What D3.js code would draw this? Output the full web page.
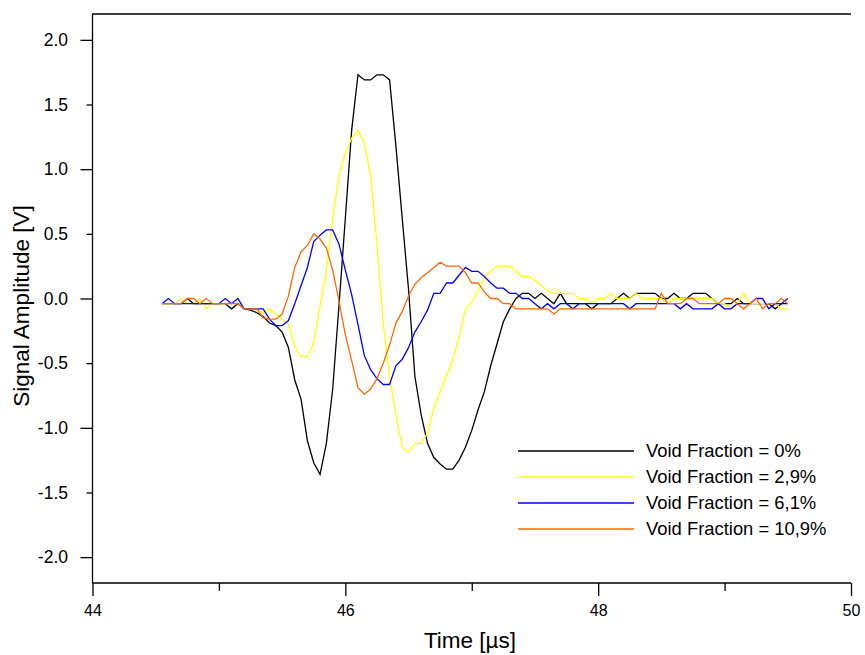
<!DOCTYPE html>
<html>
<head>
<meta charset="utf-8">
<script src="https://cdn.jsdelivr.net/npm/d3@7/dist/d3.min.js"></script>
<style>
  body { margin: 0; background: #fff; }
  text { font-family: Arial, "Liberation Sans", sans-serif; fill: #000; }
</style>
</head>
<body>
<svg id="chart" width="865" height="655"></svg>
<script>
// sampling of the scope trace (µs)
const tStart = 44.55;
const tStep = 0.05;

// Signal amplitude [V], one value per sample
const vf0 = [
  -0.04, -0.04, -0.04, -0.04, 0.0, -0.04, -0.04, -0.04, -0.04, -0.04,
  -0.04, -0.08, -0.04, -0.08, -0.09, -0.11, -0.14, -0.19, -0.21, -0.26,
  -0.38, -0.63, -0.78, -1.10, -1.27, -1.36, -1.12, -0.70, -0.05, 0.62,
  1.30, 1.73, 1.69, 1.69, 1.73, 1.73, 1.69, 1.18, 0.62, 0.07,
  -0.60, -0.90, -1.12, -1.23, -1.28, -1.32, -1.32, -1.25, -1.15, -1.02,
  -0.86, -0.72, -0.52, -0.35, -0.18, -0.08, 0.0, 0.04, 0.04, 0.0,
  0.04, 0.0, -0.04, 0.04, -0.04, -0.04, -0.04, -0.04, -0.08, -0.04,
  -0.04, -0.04, 0.0, 0.04, 0.0, 0.04, 0.04, 0.04, 0.04, 0.0,
  0.0, 0.04, 0.0, 0.0, 0.04, 0.04, 0.04, 0.0, -0.04, -0.04,
  -0.04, 0.0, -0.04, -0.04, -0.04, -0.04, -0.04, -0.08, -0.04, -0.04
];
const vf29 = [
  -0.04, -0.04, -0.04, 0.0, -0.04, -0.04, 0.0, -0.08, -0.04, -0.04,
  -0.04, -0.04, -0.04, -0.08, -0.08, -0.08, -0.11, -0.08, -0.12, -0.16,
  -0.20, -0.37, -0.45, -0.45, -0.34, -0.06, 0.22, 0.62, 0.95, 1.13,
  1.24, 1.30, 1.20, 0.95, 0.42, -0.20, -0.60, -0.90, -1.15, -1.19,
  -1.12, -1.12, -1.04, -0.85, -0.72, -0.60, -0.47, -0.30, -0.08, -0.03,
  0.06, 0.16, 0.21, 0.25, 0.25, 0.25, 0.21, 0.17, 0.17, 0.14,
  0.10, 0.06, 0.04, 0.04, 0.04, 0.04, 0.0, 0.0, -0.04, 0.0,
  0.0, 0.04, 0.0, 0.0, 0.0, 0.04, 0.0, 0.0, 0.0, 0.0,
  -0.04, 0.0, 0.0, 0.0, 0.0, 0.0, 0.0, 0.0, -0.04, -0.04,
  -0.08, -0.04, 0.04, -0.04, -0.04, -0.04, -0.04, -0.04, -0.08, -0.08
];
const vf61 = [
  -0.04, 0.0, -0.04, -0.04, -0.04, -0.04, -0.04, -0.04, -0.04, -0.04,
  0.0, -0.04, 0.0, -0.08, -0.08, -0.08, -0.08, -0.16, -0.21, -0.21,
  -0.17, -0.04, 0.10, 0.24, 0.44, 0.49, 0.53, 0.53, 0.42, 0.22,
  0.03, -0.20, -0.44, -0.55, -0.62, -0.665, -0.665, -0.52, -0.47, -0.38,
  -0.26, -0.18, -0.09, 0.04, 0.04, 0.12, 0.12, 0.18, 0.24, 0.21,
  0.21, 0.17, 0.12, 0.08, 0.08, 0.04, 0.04, 0.0, 0.0, -0.04,
  -0.08, -0.04, -0.08, -0.04, -0.04, -0.08, -0.04, -0.04, -0.04, -0.04,
  -0.04, -0.04, -0.04, -0.04, -0.08, -0.04, -0.04, -0.04, -0.04, -0.04,
  -0.04, -0.04, -0.08, -0.04, -0.08, -0.08, -0.08, -0.08, -0.04, -0.08,
  -0.08, -0.04, -0.04, -0.04, 0.0, 0.0, -0.08, -0.04, -0.04, 0.0
];
const vf109 = [
  -0.04, -0.04, -0.04, -0.04, 0.0, 0.0, -0.04, 0.0, -0.04, -0.04,
  -0.04, -0.04, -0.04, -0.08, -0.08, -0.08, -0.15, -0.16, -0.16, -0.12,
  0.02, 0.24, 0.36, 0.41, 0.50, 0.46, 0.39, 0.22, -0.02, -0.28,
  -0.48, -0.69, -0.74, -0.70, -0.62, -0.50, -0.36, -0.19, -0.10, 0.02,
  0.11, 0.16, 0.20, 0.24, 0.28, 0.25, 0.25, 0.25, 0.20, 0.12,
  0.12, 0.05, 0.0, 0.0, -0.04, -0.04, -0.08, -0.08, -0.08, -0.08,
  -0.08, -0.08, -0.12, -0.08, -0.08, -0.08, -0.08, -0.08, -0.08, -0.08,
  -0.08, -0.08, -0.08, -0.08, -0.08, -0.08, -0.08, -0.08, -0.08, 0.04,
  -0.04, -0.04, -0.04, 0.0, 0.0, -0.04, -0.04, -0.04, -0.04, 0.0,
  0.0, -0.04, -0.08, -0.04, 0.0, -0.08, -0.04, -0.04, 0.0, -0.04
];

const seriesNames = ["Void Fraction = 0%", "Void Fraction = 2,9%", "Void Fraction = 6,1%", "Void Fraction = 10,9%"];
const seriesValues = [vf0, vf29, vf61, vf109];
const seriesColors = ["#000000", "#ffff00", "#0000ff", "#ff6600"];

const xTicks = [44, 45, 46, 47, 48, 49, 50];
const yTicks = [-2.0, -1.5, -1.0, -0.5, 0.0, 0.5, 1.0, 1.5, 2.0];

const width = 865, height = 655;
const margin = { top: 14, right: 14, bottom: 72, left: 92.5 };

const svg = d3.select("#chart");

const x = d3.scaleLinear().domain([44, 50]).range([margin.left, width - margin.right]);
const y = d3.scaleLinear().domain([-2.2, 2.2]).range([height - margin.bottom, margin.top]);

// axes
const xAxis = svg.append("g")
  .attr("transform", "translate(0," + (height - margin.bottom) + ")")
  .call(d3.axisBottom(x).tickValues(xTicks).tickSize(13).tickPadding(9)
    .tickFormat(d => d % 2 === 0 ? String(d) : ""));
xAxis.selectAll(".tick line").attr("y2", d => d % 2 === 0 ? 13 : 8);
xAxis.selectAll(".tick text").style("font-size", "16px");

const yAxis = svg.append("g")
  .attr("transform", "translate(" + margin.left + ",0)")
  .call(d3.axisLeft(y).tickValues(yTicks).tickSize(12).tickPadding(12.5)
    .tickFormat(d => d.toFixed(1)));
yAxis.selectAll(".tick line").attr("x2", d => Number.isInteger(d) ? -12 : -6);
yAxis.selectAll(".tick text").style("font-size", "17.5px");

svg.selectAll(".domain").remove();
svg.selectAll(".tick line").attr("stroke", "#000").attr("stroke-width", 1.3);
svg.selectAll(".tick text").attr("font-family", null);

// frame: left, bottom and top
const frame = svg.append("g").attr("stroke", "#000").attr("stroke-width", 1.3).attr("fill", "none");
frame.append("path").attr("d",
  "M" + x(50) + "," + y(2.2) + "H" + x(44) + "V" + y(-2.2) + "H" + x(50));

// lines
const line = d3.line()
  .x((d, i) => x(tStart + i * tStep))
  .y(d => y(d));

svg.append("g")
  .selectAll("path")
  .data(seriesValues)
  .join("path")
  .attr("d", d => line(d))
  .attr("fill", "none")
  .attr("stroke", (d, i) => seriesColors[i])
  .attr("stroke-width", 1.3);

// legend
const legend = svg.append("g");
seriesNames.forEach((name, i) => {
  const ly = 451 + i * 26;
  legend.append("line")
    .attr("x1", 518).attr("x2", 634)
    .attr("y1", ly).attr("y2", ly)
    .attr("stroke", seriesColors[i]).attr("stroke-width", 1.3);
  legend.append("text")
    .attr("x", 646).attr("y", ly)
    .attr("dy", "0.35em")
    .style("font-size", "18.4px")
    .text(name);
});

// axis titles
svg.append("text")
  .attr("x", 470)
  .attr("y", 648)
  .attr("text-anchor", "middle")
  .style("font-size", "22.5px")
  .text("Time [µs]");

svg.append("text")
  .attr("transform", "translate(29," + 306 + ") rotate(-90)")
  .attr("text-anchor", "middle")
  .style("font-size", "22.5px")
  .text("Signal Amplitude [V]");
</script>
</body>
</html>
